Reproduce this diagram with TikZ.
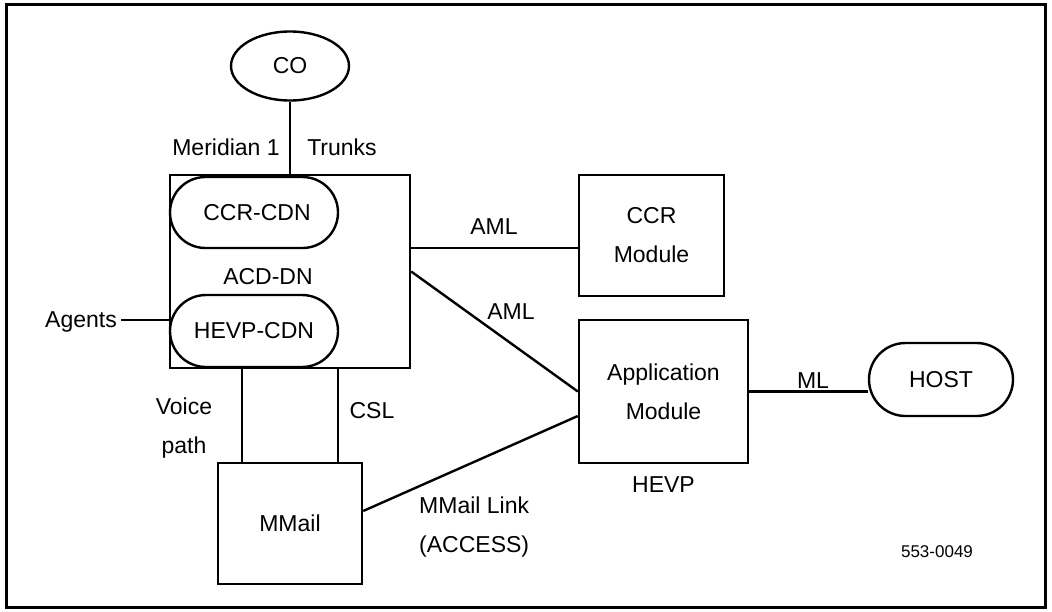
\documentclass[tikz,border=0pt]{standalone}
\usepackage{fontspec}
\setmainfont{Liberation Sans}
\usepackage{tikz}
\usetikzlibrary{positioning}
\usetikzlibrary{shapes.geometric}
\usetikzlibrary{shapes.misc}
\tikzset{
	module/.style={
		draw, rectangle, line width=2.4pt, inner sep=0pt, align=center
	},
	cdn/.style={
		draw, rounded rectangle, line width=2.4pt, inner sep=0pt,
		minimum width=168pt, minimum height=71pt
	},
	link/.style={
		line width=2.4pt
	},
	lbl/.style={
		inner sep=0pt, align=center
	}
}
\begin{document}
\begin{tikzpicture}[x=1pt, y=-1pt, every node/.style={font=\fontsize{23}{39}\selectfont}]
	\useasboundingbox (0,0) rectangle (1052,611);
	\draw[line width=3pt] (6,4) rectangle (1045,607);

	\node[draw, ellipse, line width=2.4pt, minimum width=118pt, minimum height=69pt] (co) at (290,66) {CO};
	\node[module, minimum width=240pt, minimum height=193pt] (acd) at (290,271.5) {};
	\node[cdn] (ccrcdn) at (254,212.5) {\hspace{6pt}CCR-CDN};
	\node[cdn, minimum height=72pt] (hevpcdn) at (254,331) {HEVP-CDN};
	\node[lbl] (acddn) at (268,277) {ACD-DN};
	\node[module, minimum width=144pt, minimum height=121pt] (mmail) at (290,523.5) {MMail};
	\node[module, minimum width=145pt, minimum height=121pt] (ccrmod) at (651.5,235.5) {CCR\\Module};
	\node[module, minimum width=169pt, minimum height=143pt] (appmod) at (663.5,391.5) {Application\\Module};
	\node[cdn, minimum width=144pt, minimum height=73pt] (host) at (941,379.5) {HOST\hspace{6pt}};
	\node[lbl, below=12pt of appmod] (hevp) {HEVP};

	\node[lbl] (meridian) at (226,147) {Meridian 1};
	\node[lbl] (trunks) at (342,147) {Trunks};
	\node[lbl, anchor=east] (agents) at (117,322) {Agents};
	\node[lbl] (voice) at (184,428) {Voice\\path};
	\node[lbl] (csl) at (372,411) {CSL};
	\node[lbl] (aml-ccr) at (494,227) {AML};
	\node[lbl] (aml-app) at (511,312) {AML};
	\node[lbl] (ml) at (813,381) {ML};
	\node[lbl, align=left, anchor=west] (mmlink) at (419,527) {MMail Link\\(ACCESS)};
	\node[lbl, font=\fontsize{17}{20}\selectfont] (figno) at (937,552) {553-0049};

	\coordinate (vp) at (242,0);
	\coordinate (cs) at (338,0);

	\draw[link] (co) -- (co |- acd.north);
	\draw[link] ([xshift=4pt,yshift=2pt]agents.east) -- ([yshift=2pt]agents.east -| acd.west);
	\draw[link] (acd.south -| vp) -- (mmail.north -| vp);
	\draw[link] (acd.south -| cs) -- (mmail.north -| cs);
	\draw[link] ([yshift=-12.5pt]ccrmod.west -| acd.east) -- ([yshift=-12.5pt]ccrmod.west);
	\draw[link] (acd.east) -- (appmod.west);
	\draw[link] ([yshift=12.5pt]mmail.east) -- ([yshift=-24.5pt]appmod.west);
	\draw[link] (appmod.east) -- (appmod.east -| host.west);
\end{tikzpicture}
\end{document}
